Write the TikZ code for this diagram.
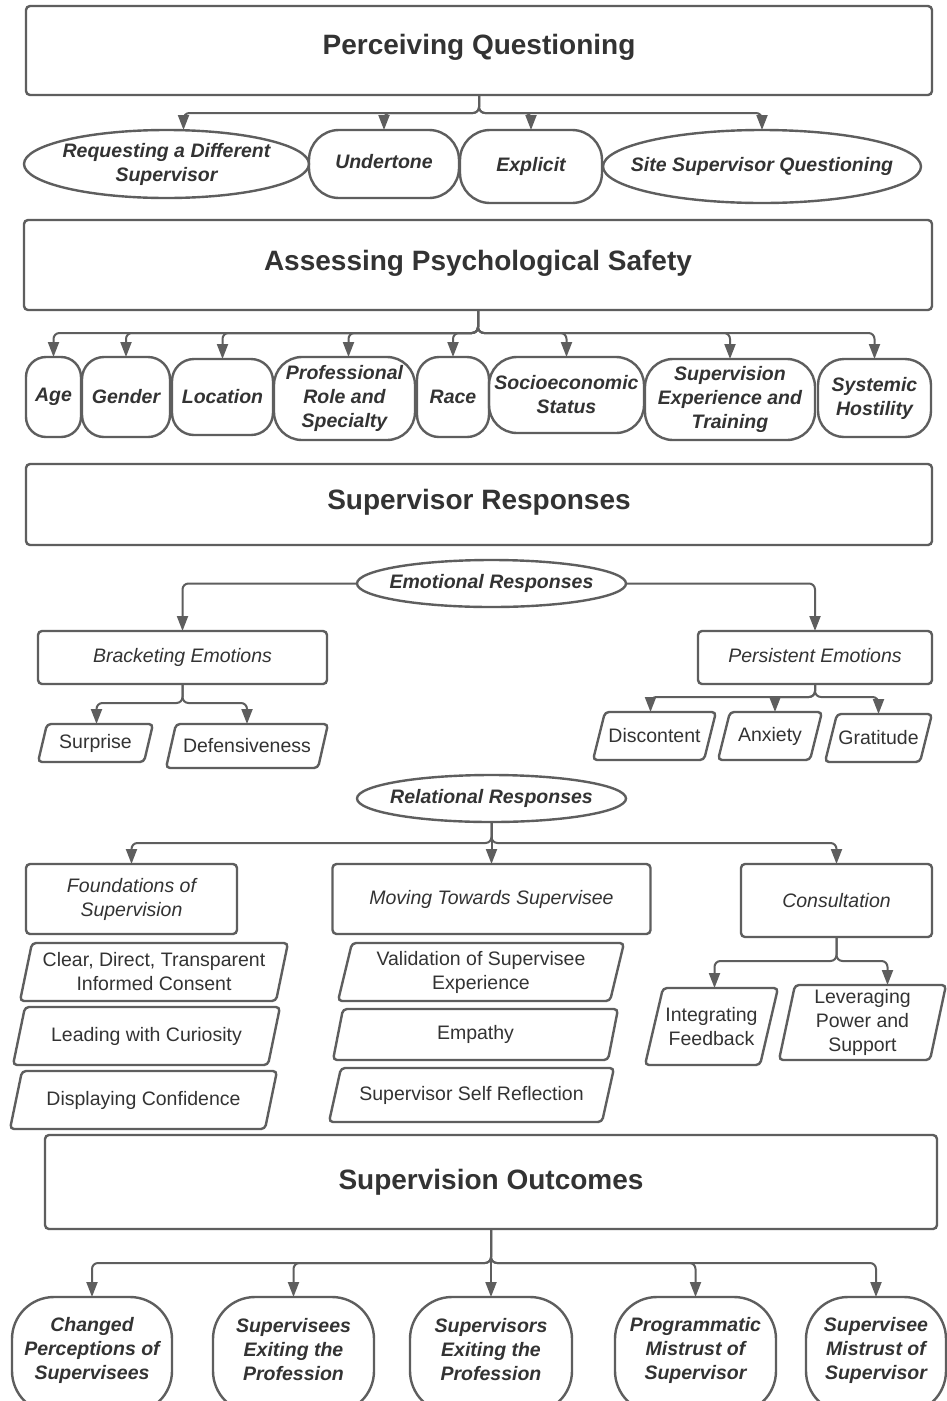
\documentclass[tikz,border=0pt]{standalone}
\usepackage{fontspec}
\setmainfont{Liberation Sans}
\usetikzlibrary{arrows.meta,shapes.geometric}
\definecolor{linec}{HTML}{5E5E5E}
\definecolor{txtc}{HTML}{333333}
\tikzset{
  base/.style={inner sep=0pt, outer sep=0pt, text=txtc, align=center, draw=linec, line width=2.4pt},
  titlebox/.style={base, rectangle, rounded corners=4pt, font=\fontsize{28}{34}\selectfont\bfseries},
  stad/.style={base, rectangle, rounded corners=#1, font=\fontsize{19.5}{24}\selectfont\bfseries\itshape},
  stad/.default=22pt,
  oval/.style={base, ellipse},
  ovaltext/.style={text=txtc, align=center, font=\fontsize{19.5}{24}\selectfont\bfseries\itshape, inner sep=0pt},
  catbox/.style={base, rectangle, rounded corners=4pt, font=\fontsize{19.5}{24}\selectfont\itshape},
  slabel/.style={rectangle, inner sep=0pt, outer sep=0pt, text=txtc, align=center, font=\fontsize{19.5}{24}\selectfont},
  sline/.style={draw=linec, line width=2.4pt, rounded corners=4pt},
  conn/.style={draw=linec, line width=2pt, rounded corners=6pt, -{Triangle[width=11pt,length=15pt]}},
}
% slanted box: name, x, y, width, height, slant, text
\newcommand\slantbox[7]{%
  \node[slabel, minimum width=#4pt, minimum height=#5pt] (#1) at (#2,#3) {#7};
  \draw[sline] ([xshift=#6pt]#1.north west) -- (#1.north east) -- ([xshift=-#6pt]#1.south east) -- (#1.south west) -- cycle;
}
\begin{document}
\begin{tikzpicture}[x=1pt, y=-1pt]
\useasboundingbox (0,0) rectangle (947,1401);
\fill[white] (0,0) rectangle (947,1401);
\clip (0,0) rectangle (947,1401);

% ---- Perceiving questioning ----
\node[titlebox, minimum width=906pt, minimum height=89pt, label={[font=\fontsize{28}{34}\selectfont\bfseries, text=txtc, yshift=3pt]center:Perceiving Questioning}] (pq) at (479,50.5) {};
\node[oval, minimum width=285pt, minimum height=68pt, label={[ovaltext]center:Requesting a Different\\Supervisor}] (req) at (166.5,164) {};
\node[stad=30pt, minimum width=150pt, minimum height=68pt, label={[ovaltext,yshift=2pt]center:Undertone}] (und) at (384,164) {};
\node[stad=30pt, minimum width=142pt, minimum height=73pt] (exp) at (531,166.5) {Explicit};
\node[oval, minimum width=318pt, minimum height=73pt, label={[ovaltext]center:Site Supervisor Questioning}] (site) at (762,166.5) {};

\draw[conn] (pq.south) -- ++(0,18) -| ([xshift=17pt]req.north);
\foreach \t in {und,exp,site} \draw[conn] (pq.south) -- ++(0,18) -| (\t.north);

% ---- Assessing psychological safety ----
\node[titlebox, minimum width=908pt, minimum height=90pt, label={[font=\fontsize{28}{34}\selectfont\bfseries, text=txtc, yshift=2pt]center:Assessing Psychological Safety}] (aps) at (478,265) {};
\node[stad=20pt, minimum width=55pt, minimum height=80pt] (age) at (53.5,397) {Age};
\node[stad, minimum width=88pt, minimum height=80pt] (gen) at (126,397) {Gender};
\node[stad, minimum width=101pt, minimum height=76pt] (loc) at (222.5,397) {Location};
\node[stad=28pt, minimum width=141pt, minimum height=83pt] (pro) at (344.5,398.5) {Professional\\Role and\\Specialty};
\node[stad, minimum width=72pt, minimum height=80pt] (race) at (453,397) {Race};
\node[stad=28pt, minimum width=155pt, minimum height=76pt] (soc) at (566.5,395) {Socioeconomic\\Status};
\node[stad=28pt, minimum width=170pt, minimum height=81pt] (sexp) at (730,399.5) {Supervision\\Experience and\\Training};
\node[stad=26pt, minimum width=113pt, minimum height=78pt] (sys) at (874.5,398) {Systemic\\Hostility};

\foreach \t in {age,gen,loc,race,soc,sexp,sys} \draw[conn] (aps.south) -- ++(0,23) -| (\t.north);
\draw[conn] (aps.south) -- ++(0,23) -| ([xshift=4pt]pro.north);

% ---- Supervisor responses ----
\node[titlebox, minimum width=906pt, minimum height=81pt, label={[font=\fontsize{28}{34}\selectfont\bfseries, text=txtc, yshift=2pt]center:Supervisor Responses}] (sr) at (479,504.5) {};

% emotional responses
\node[oval, minimum width=269pt, minimum height=47pt, label={[ovaltext]center:Emotional Responses}] (emo) at (491.5,583.5) {};
\node[catbox, minimum width=289pt, minimum height=53pt] (brack) at (182.5,657.5) {Bracketing Emotions};
\node[catbox, minimum width=234pt, minimum height=53pt, label={[font=\fontsize{19.5}{24}\selectfont\itshape, text=txtc, yshift=2pt]center:Persistent Emotions}] (pers) at (815,657.5) {};
\draw[conn] (emo.west) -| (brack.north);
\draw[conn] (emo.east) -| (pers.north);

\slantbox{surp}{95.5}{743}{115}{38}{9}{Surprise}
\slantbox{def}{247}{746}{162}{44}{10}{Defensiveness}
\draw[conn] (brack.south) -- ++(0,19) -| ([xshift=1pt]surp.north);
\draw[conn] (brack.south) -- ++(0,19) -| (def.north);

\slantbox{disc}{654.5}{736}{123}{48}{12}{Discontent}
\slantbox{anx}{770}{736}{104}{48}{12}{Anxiety}
\slantbox{grat}{878.5}{738}{107}{48}{12}{Gratitude}
\draw[conn] (pers.south) -- ++(0,13) -| ([xshift=-4pt]disc.north);
\draw[conn] (pers.south) -- ++(0,13) -| ([xshift=5pt]anx.north);
\draw[conn] (pers.south) -- ++(0,13) -| (grat.north);

% relational responses
\node[oval, minimum width=269pt, minimum height=47pt, label={[ovaltext]center:Relational Responses}] (rel) at (491.5,798.5) {};
\node[catbox, minimum width=211pt, minimum height=70pt] (found) at (131.5,899) {Foundations of\\Supervision};
\node[catbox, minimum width=318pt, minimum height=70pt] (mov) at (491.5,899) {Moving Towards Supervisee};
\node[catbox, minimum width=191pt, minimum height=73pt] (cons) at (836.5,900.5) {Consultation};
\draw[conn] (rel.south) -- ++(0,21) -| (found.north);
\draw[conn] (rel.south) -- (mov.north);
\draw[conn] (rel.south) -- ++(0,21) -| (cons.north);

\slantbox{cdt}{154}{972}{268}{58}{12}{Clear, Direct, Transparent\\Informed Consent}
\slantbox{lwc}{146.5}{1036}{267}{58}{12}{Leading with Curiosity}
\slantbox{dc}{143.5}{1100}{267}{58}{12}{Displaying Confidence}

\slantbox{val}{481}{972}{286}{58}{14}{Validation of Supervisee\\Experience}
\slantbox{emp}{475.5}{1034.5}{285}{51}{10}{Empathy}
\slantbox{ssr}{471.5}{1095}{285}{54}{12}{Supervisor Self Reflection}

\slantbox{intf}{711.5}{1026.5}{133}{77}{18}{Integrating\\Feedback}
\slantbox{lev}{862.5}{1022.5}{167}{75}{16}{Leveraging\\Power and\\Support}
\draw[conn] (cons.south) -- ++(0,24) -| ([xshift=3pt]intf.north);
\draw[conn] (cons.south) -- ++(0,24) -| ([xshift=25pt]lev.north);

% ---- Supervision outcomes ----
\node[titlebox, minimum width=892pt, minimum height=94pt] (so) at (491,1182) {Supervision Outcomes};
\node[stad=42pt, minimum width=160pt, minimum height=116pt, label={[ovaltext,yshift=5pt]center:Changed\\Perceptions of\\Supervisees}] (o1) at (92,1355) {};
\node[stad=42pt, minimum width=161pt, minimum height=116pt, label={[ovaltext,yshift=5pt]center:Supervisees\\Exiting the\\Profession}] (o2) at (293.5,1355) {};
\node[stad=42pt, minimum width=162pt, minimum height=116pt, label={[ovaltext,yshift=5pt]center:Supervisors\\Exiting the\\Profession}] (o3) at (491,1355) {};
\node[stad=42pt, minimum width=161pt, minimum height=116pt, label={[ovaltext,yshift=5pt]center:Programmatic\\Mistrust of\\Supervisor}] (o4) at (695.5,1355) {};
\node[stad=42pt, minimum width=140pt, minimum height=116pt, label={[ovaltext,yshift=5pt]center:Supervisee\\Mistrust of\\Supervisor}] (o5) at (876,1355) {};
\foreach \t in {o1,o2,o4,o5} \draw[conn] (so.south) -- ++(0,34) -| (\t.north);
\draw[conn] (so.south) -- (o3.north);
\end{tikzpicture}
\end{document}
